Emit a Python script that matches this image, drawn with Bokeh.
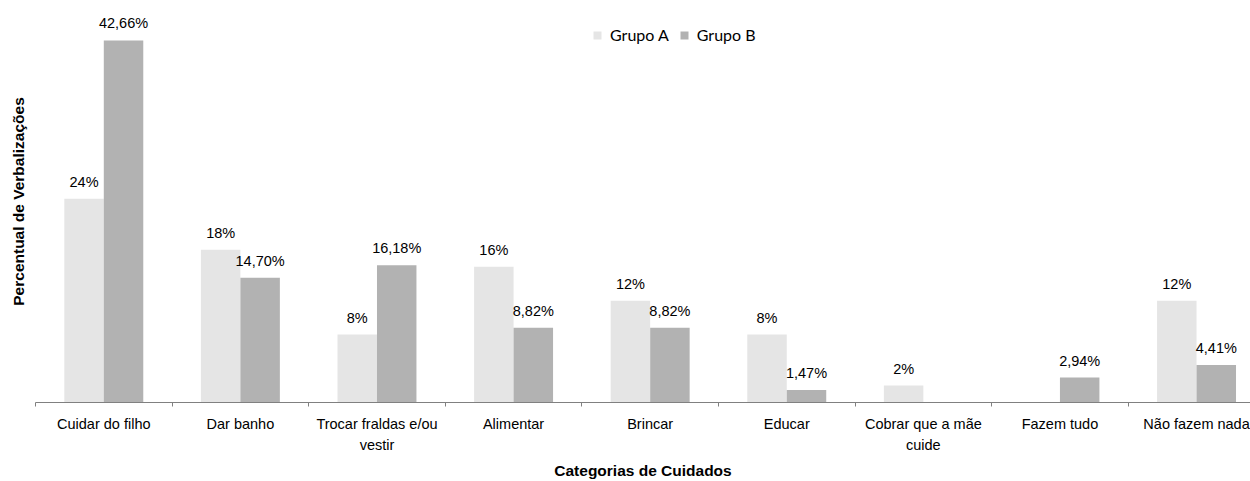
from bokeh.plotting import figure
from bokeh.models import ColumnDataSource, FixedTicker, LabelSet, Legend, LegendItem, Range1d
from bokeh.core.properties import value
from bokeh.embed import file_html
from bokeh.resources import INLINE

categories = ["Cuidar do filho", "Dar banho", "Trocar fraldas e/ou\nvestir", "Alimentar",
              "Brincar", "Educar", "Cobrar que a mãe\ncuide", "Fazem tudo", "Não fazem nada"]
grupo_a = [24, 18, 8, 16, 12, 8, 2, 0, 12]
grupo_b = [42.66, 14.70, 16.18, 8.82, 8.82, 1.47, 0, 2.94, 4.41]
labels_a = ["24%", "18%", "8%", "16%", "12%", "8%", "2%", "", "12%"]
labels_b = ["42,66%", "14,70%", "16,18%", "8,82%", "8,82%", "1,47%", "", "2,94%", "4,41%"]
series_names = ["Grupo A", "Grupo B"]
x_title = "Categorias de Cuidados"
y_title = "Percentual de Verbalizações"
colors = ["#e5e5e5", "#b2b2b2"]

BAR_W = 0.289
centers = [i + 0.5 for i in range(len(categories))]
xa = [c - BAR_W / 2 for c in centers]
xb = [c + BAR_W / 2 for c in centers]

src_a = ColumnDataSource(dict(x=xa, top=grupo_a))
src_b = ColumnDataSource(dict(x=xb, top=grupo_b))
lab_a = ColumnDataSource(dict(x=[x for x, v in zip(xa, grupo_a) if v > 0],
                              y=[v for v in grupo_a if v > 0],
                              t=[t for t, v in zip(labels_a, grupo_a) if v > 0]))
lab_b = ColumnDataSource(dict(x=[x for x, v in zip(xb, grupo_b) if v > 0],
                              y=[v for v in grupo_b if v > 0],
                              t=[t for t, v in zip(labels_b, grupo_b) if v > 0]))

p = figure(width=1250, height=481, output_backend="svg", toolbar_location=None,
           x_range=Range1d(0, 8.895), y_range=Range1d(0, 47.36),
           min_border_left=35, min_border_right=0, min_border_top=0, min_border_bottom=78)
p.outline_line_color = None
p.xgrid.visible = False
p.ygrid.visible = False
p.background_fill_color = "white"

ra = p.vbar(x="x", top="top", width=BAR_W, bottom=0, source=src_a, fill_color=colors[0], line_color=None)
rb = p.vbar(x="x", top="top", width=BAR_W, bottom=0, source=src_b, fill_color=colors[1], line_color=None)

for s in (lab_a, lab_b):
    p.add_layout(LabelSet(x="x", y="y", text="t", source=s, text_align="center",
                          text_baseline="alphabetic", y_offset=12,
                          text_font=value("Liberation Sans"), text_font_size=value("14.5px"),
                          text_color=value("#000000")))

xax = p.xaxis[0]
xax.ticker = FixedTicker(ticks=centers, minor_ticks=list(range(0, len(categories) + 1)))
xax.major_label_overrides = {c: n for c, n in zip(centers, categories)}
xax.major_tick_out = 0
xax.major_tick_in = 0
xax.minor_tick_out = 4
xax.minor_tick_in = 0
xax.minor_tick_line_color = "#808080"
xax.axis_line_color = "#808080"
xax.major_label_standoff = 9
xax.major_label_text_font = "Liberation Sans"
xax.major_label_text_font_size = "14.5px"
xax.major_label_text_color = "#000000"
xax.major_label_text_line_height = 1.32
xax.axis_label = x_title
xax.axis_label_text_font = "Liberation Sans"
xax.axis_label_text_font_style = "bold"
xax.axis_label_text_font_size = "15.5px"
xax.axis_label_text_color = "#000000"
xax.axis_label_text_line_height = 1.0
xax.axis_label_standoff = 6

yax = p.yaxis[0]
yax.ticker = FixedTicker(ticks=[])
yax.axis_line_color = None
yax.major_tick_line_color = None
yax.minor_tick_line_color = None
yax.major_label_standoff = 0
yax.axis_label = y_title
yax.axis_label_text_font = "Liberation Sans"
yax.axis_label_text_font_style = "bold"
yax.axis_label_text_font_size = "15.5px"
yax.axis_label_text_color = "#000000"
yax.axis_label_standoff = 9

legend = Legend(items=[LegendItem(label=series_names[0], renderers=[ra]),
                       LegendItem(label=series_names[1], renderers=[rb])],
                orientation="horizontal", location=(557, 358),
                padding=0, margin=0, spacing=10, label_standoff=8,
                glyph_width=10, glyph_height=10, label_height=10,
                label_text_font="Lato", label_text_font_size="16px",
                label_text_color="#000000", label_text_baseline="middle",
                border_line_color=None, background_fill_alpha=0)
p.add_layout(legend)

open("out.html", "w").write(file_html(p, INLINE))
